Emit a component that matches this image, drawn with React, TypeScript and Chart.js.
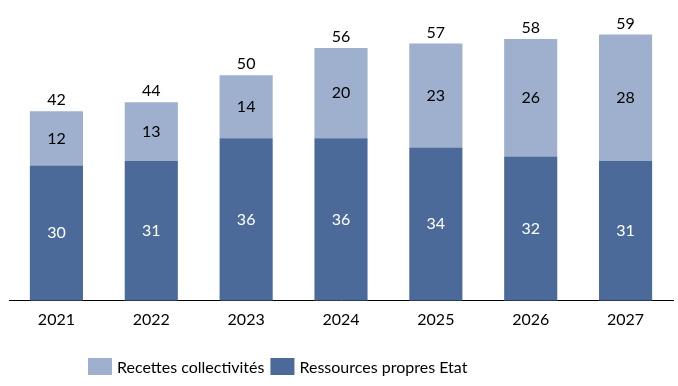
import React, { useEffect, useRef } from "react";
import { Chart, registerables } from "chart.js";

Chart.register(...registerables);

const years = ["2021", "2022", "2023", "2024", "2025", "2026", "2027"];
const ressourcesEtat = [30, 31, 36, 36, 34, 32, 31];
const recettesCollectivites = [12, 13, 14, 20, 23, 26, 28];
const totals = [42, 44, 50, 56, 57, 58, 59];

const DARK = "#4B6A9A";
const LIGHT = "#9EB0CE";
const FONT = "Lato, 'Noto Sans', sans-serif";

const labelsPlugin = {
  id: "valueLabels",
  afterDatasetsDraw(chart: any) {
    const ctx = chart.ctx;
    ctx.save();
    ctx.font = `16px ${FONT}`;
    ctx.textAlign = "center";
    ctx.textBaseline = "middle";
    chart.data.datasets.forEach((ds: any, di: number) => {
      const meta = chart.getDatasetMeta(di);
      meta.data.forEach((bar: any, i: number) => {
        const mid = (bar.y + bar.base) / 2;
        ctx.fillStyle = di === 0 ? "#ffffff" : "#000000";
        ctx.fillText(String(ds.data[i]), bar.x, mid);
      });
    });
    const topMeta = chart.getDatasetMeta(chart.data.datasets.length - 1);
    topMeta.data.forEach((bar: any, i: number) => {
      ctx.fillStyle = "#000000";
      ctx.fillText(String(totals[i]), bar.x, bar.y - 11);
    });
    ctx.restore();
  },
};

const legendPlugin = {
  id: "customLegend",
  afterDraw(chart: any) {
    const ctx = chart.ctx;
    ctx.save();
    ctx.font = `16px ${FONT}`;
    ctx.textAlign = "left";
    ctx.textBaseline = "middle";
    const items = [
      { label: "Recettes collectivités", color: LIGHT },
      { label: "Ressources propres Etat", color: DARK },
    ];
    let x = 88;
    const yMid = 366.5;
    items.forEach((it) => {
      ctx.fillStyle = it.color;
      ctx.fillRect(x, yMid - 8.5, 24, 17);
      ctx.fillStyle = "#000000";
      ctx.fillText(it.label, x + 29, yMid + 1);
      x += 29 + ctx.measureText(it.label).width + 6;
    });
    ctx.restore();
  },
};

export default function App() {
  const ref = useRef<HTMLCanvasElement | null>(null);
  useEffect(() => {
    document.body.style.margin = "0";
    if (!ref.current) return;
    const chart = new Chart(ref.current, {
      type: "bar",
      data: {
        labels: years,
        datasets: [
          {
            label: "Ressources propres Etat",
            data: ressourcesEtat,
            backgroundColor: DARK,
            barPercentage: 0.56,
            categoryPercentage: 1,
          },
          {
            label: "Recettes collectivités",
            data: recettesCollectivites,
            backgroundColor: LIGHT,
            barPercentage: 0.56,
            categoryPercentage: 1,
          },
        ],
      },
      options: {
        animation: false,
        responsive: false,
        layout: { padding: { left: 9, right: 5, top: 12, bottom: 48 } },
        plugins: {
          legend: { display: false },
          tooltip: { enabled: false },
        },
        scales: {
          x: {
            stacked: true,
            grid: { display: false, drawTicks: false },
            border: { display: true, color: "#000000", width: 1 },
            ticks: { color: "#000000", font: { family: FONT, size: 16 }, padding: 9 },
          },
          y: {
            stacked: true,
            display: false,
            min: 0,
            max: 64,
          },
        },
      },
      plugins: [labelsPlugin, legendPlugin],
    });
    return () => chart.destroy();
  }, []);
  return (
    <div style={{ position: "fixed", left: 0, top: 0, width: 678, height: 386, background: "#fff" }}>
      <canvas ref={ref} width={678} height={386} style={{ width: 678, height: 386 }} />
    </div>
  );
}
